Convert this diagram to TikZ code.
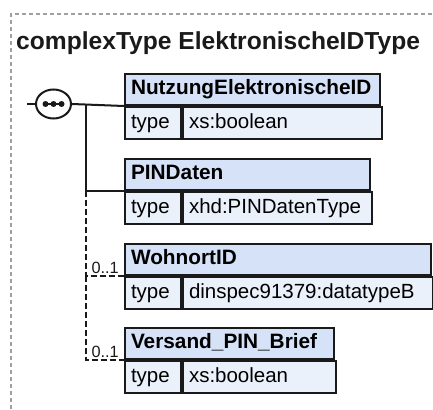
\documentclass[tikz,border=0pt]{standalone}
\usepackage{fontspec}
\setmainfont{Liberation Sans}
\usetikzlibrary{positioning,calc,shapes.geometric}
\definecolor{ink}{HTML}{1A1A1A}
\definecolor{frame}{HTML}{A0A0A0}
\definecolor{hdrbg}{HTML}{D6E2F8}
\definecolor{rowbg}{HTML}{EBF1FB}

\begin{document}
\begin{tikzpicture}[
  x=1pt, y=-1pt,
  title/.style={font=\fontsize{24.6}{28}\selectfont\bfseries, text=ink, inner sep=0pt},
  hdr/.style={draw=ink, fill=hdrbg, line width=2pt, anchor=north west,
              align=left, inner xsep=6pt, inner ysep=0pt, text width=#1,
              minimum height=31pt, text height=15pt, text depth=4.5pt,
              font=\fontsize{20.8}{24}\selectfont\bfseries},
  cell/.style={draw=ink, fill=rowbg, line width=2pt, anchor=north west,
               align=left, inner xsep=6pt, inner ysep=0pt, text width=#1,
               minimum height=32pt, text height=15pt, text depth=4.5pt,
               font=\fontsize{20.5}{24}\selectfont},
  occ/.style={font=\fontsize{16.3}{18}\selectfont, text=ink, inner sep=0pt},
  conn/.style={draw=ink, line width=2pt},
  opt/.style={conn, dash pattern=on 6pt off 3pt},
]
\useasboundingbox (0,0) rectangle (433,409);

%% ================= frame and title =================
\draw[frame, line width=1.2pt, dash pattern=on 4pt off 3pt] (11,409) |- (433,14);
\node[title, anchor=base west] (title) at (16,50) {complexType ElektronischeIDType};

%% ================= sequence compositor =================
\coordinate (entry) at (27,104);
\node[draw=ink, fill=white, line width=2pt, ellipse, minimum width=35pt,
      minimum height=29pt, inner sep=0pt] (seq) at (53.5,104) {};
\draw[ink, line width=2pt] ([xshift=-9pt]seq.center) -- ([xshift=9pt]seq.center);
\foreach \dx in {-8,0,8}
  \fill[ink] ([xshift=\dx pt]seq.center) circle (3pt);
\coordinate (spine) at (85.5,104);

%% ================= element boxes =================
\node[hdr=243pt] (nutzHdr) at (124,73) {NutzungElektronischeID};
\node[cell=44pt] (nutzKey) at (nutzHdr.south west) {type};
\node[cell=187pt] (nutzVal) at (nutzKey.north east) {xs:boolean};

\node[hdr=233pt] (pinHdr) at (124,158) {PINDaten};
\node[cell=44pt] (pinKey) at (pinHdr.south west) {type};
\node[cell=177pt] (pinVal) at (pinKey.north east) {xhd:PINDatenType};

\node[hdr=294pt] (wohnHdr) at (124,243) {WohnortID};
\node[cell=44pt] (wohnKey) at (wohnHdr.south west) {type};
\node[cell=238pt] (wohnVal) at (wohnKey.north east) {dinspec91379:datatypeB};

\node[hdr=197pt] (versHdr) at (124,327) {Versand\_PIN\_Brief};
\node[cell=44pt] (versKey) at (versHdr.south west) {type};
\node[cell=141pt] (versVal) at (versKey.north east) {xs:boolean};

%% ================= connectors =================
\draw[conn] (entry) -- (seq.west);
\draw[conn] (seq.east) -- (nutzHdr.south west);
\draw[conn] (spine) |- (pinHdr.south west);
\draw[opt] (spine |- pinHdr.south west) |- (wohnHdr.south west);
\draw[opt] (spine |- wohnHdr.south west) |- (versHdr.south west);

\node[occ, anchor=base east] (wohnOcc) at ([xshift=-5pt,yshift=3pt]wohnHdr.south west) {0..1};
\node[occ, anchor=base east] (versOcc) at ([xshift=-5pt,yshift=3pt]versHdr.south west) {0..1};

\end{tikzpicture}
\end{document}
